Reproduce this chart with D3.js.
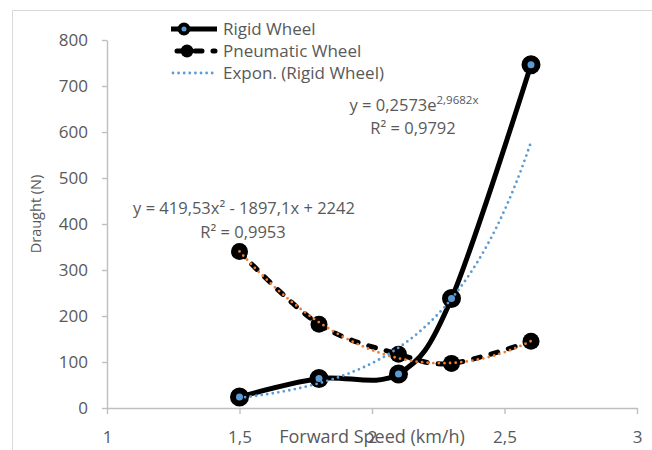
<!DOCTYPE html>
<html>
<head>
<meta charset="utf-8">
<script src="https://cdn.jsdelivr.net/npm/d3@7"></script>
<style>
  body { margin: 0; background: #fff; }
  svg { display: block; font-family: "Open Sans", "Noto Sans", sans-serif; }
  .axis path, .axis line { stroke: #bfbfbf; stroke-width: 1.4; }
  .axis text { fill: #595959; font-size: 17px; font-family: "Open Sans", sans-serif; }
</style>
</head>
<body>
<div id="chart"></div>
<script>
// --- data ---
const speeds = [1.5, 1.8, 2.1, 2.3, 2.6];
const rigidDraught = [24, 64, 74, 238, 746];
const pneumaticDraught = [340, 182, 117, 97, 145];
const xTicks = [1, 1.5, 2, 2.5, 3];
const yTicks = [0, 100, 200, 300, 400, 500, 600, 700, 800];
const expCoef = [0.2573, 2.9682];          // y = a * e^(b x)
const quadCoef = [419.53, -1897.1, 2242];   // y = a x^2 + b x + c
const legendNames = ["Rigid Wheel", "Pneumatic Wheel", "Expon. (Rigid Wheel)"];

const width = 652, height = 450;
const black = "#000", blue = "#5b9bd5", orange = "#ed7d31", grey = "#595959";

const svg = d3.select("#chart").append("svg")
    .attr("width", width)
    .attr("height", height);

// chart border (only top / left visible)
svg.append("path")
    .attr("d", "M12.5,450V10.5H652")
    .attr("fill", "none")
    .attr("stroke", "#d9d9d9")
    .attr("stroke-width", 1);

const x = d3.scaleLinear().domain([1, 3]).range([107, 637]);
const y = d3.scaleLinear().domain([0, 800]).range([408, 40]);
const fmt = d => String(d).replace(".", ",");

// axes
const gx = svg.append("g").attr("class", "axis")
    .attr("transform", "translate(0,408)")
    .call(d3.axisBottom(x).tickValues(xTicks).tickFormat(fmt).tickSize(6).tickSizeOuter(0));
gx.selectAll("text").attr("y", 29).attr("dy", "0.35em");

const gy = svg.append("g").attr("class", "axis")
    .attr("transform", "translate(107,0)")
    .call(d3.axisLeft(y).tickValues(yTicks).tickSize(5).tickPadding(14).tickSizeOuter(0));
gy.selectAll("text").attr("dy", "0.35em");

// axis titles
svg.append("text")
    .attr("x", 372).attr("y", 437).attr("dy", "0.35em")
    .attr("text-anchor", "middle")
    .attr("fill", grey).attr("font-size", 18)
    .text("Forward Speed (km/h)");

svg.append("text")
    .attr("transform", "translate(36,214) rotate(-90)")
    .attr("dy", "0.35em")
    .attr("text-anchor", "middle")
    .attr("fill", grey).attr("font-size", 14.5)
    .text("Draught (N)");

// series
const rigid = speeds.map((s, i) => [s, rigidDraught[i]]);
const pneu = speeds.map((s, i) => [s, pneumaticDraught[i]]);

const line = d3.line()
    .x(d => x(d[0]))
    .y(d => y(d[1]))
    .curve(d3.curveCardinal.tension(0));

svg.append("path")
    .datum(pneu)
    .attr("d", line)
    .attr("fill", "none")
    .attr("stroke", black)
    .attr("stroke-width", 5)
    .attr("stroke-linecap", "round")
    .attr("stroke-dasharray", "7,11");

svg.append("path")
    .datum(rigid)
    .attr("d", line)
    .attr("fill", "none")
    .attr("stroke", black)
    .attr("stroke-width", 5);

// markers
svg.append("g").selectAll("circle")
    .data(pneu)
    .join("circle")
    .attr("cx", d => x(d[0]))
    .attr("cy", d => y(d[1]))
    .attr("r", 8.5)
    .attr("fill", black);

svg.append("g").selectAll("circle")
    .data(rigid)
    .join("circle")
    .attr("cx", d => x(d[0]))
    .attr("cy", d => y(d[1]))
    .attr("r", 6.5)
    .attr("fill", blue)
    .attr("stroke", black)
    .attr("stroke-width", 6);

// trendlines (from the printed equations)
const span = d3.range(0, 61).map(i => speeds[0] + (speeds[speeds.length - 1] - speeds[0]) * i / 60);
const quadPts = span.map(s => [s, quadCoef[0] * s * s + quadCoef[1] * s + quadCoef[2]]);
const expPts = span.map(s => [s, expCoef[0] * Math.exp(expCoef[1] * s)]);
const straight = d3.line().x(d => x(d[0])).y(d => y(d[1]));

[[quadPts, orange], [expPts, blue]].forEach(([pts, col]) => {
    svg.append("path")
        .datum(pts)
        .attr("d", straight)
        .attr("fill", "none")
        .attr("stroke", col)
        .attr("stroke-width", 2.8)
        .attr("stroke-linecap", "round")
        .attr("stroke-dasharray", "0,5.6");
});

// equations
const eqExp = svg.append("text")
    .attr("x", 414).attr("y", 105).attr("dy", "0.35em")
    .attr("text-anchor", "middle")
    .attr("fill", grey).attr("font-size", 16.5);
eqExp.append("tspan").text("y = " + fmt(expCoef[0]) + "e");
eqExp.append("tspan").attr("dy", -7).attr("font-size", 11.5).text(fmt(expCoef[1]) + "x");
svg.append("text")
    .attr("x", 413).attr("y", 128).attr("dy", "0.35em")
    .attr("text-anchor", "middle")
    .attr("fill", grey).attr("font-size", 16.5)
    .text("R² = 0,9792");

svg.append("text")
    .attr("x", 244).attr("y", 208).attr("dy", "0.35em")
    .attr("text-anchor", "middle")
    .attr("fill", grey).attr("font-size", 16.5)
    .text("y = " + fmt(quadCoef[0]) + "x² - " + fmt(-quadCoef[1]) + "x + " + quadCoef[2]);
svg.append("text")
    .attr("x", 243).attr("y", 232).attr("dy", "0.35em")
    .attr("text-anchor", "middle")
    .attr("fill", grey).attr("font-size", 16.5)
    .text("R² = 0,9953");

// legend
const legend = svg.append("g");
const rowY = [29, 51, 73];

legend.append("line").attr("x1", 171).attr("x2", 217).attr("y1", rowY[0]).attr("y2", rowY[0])
    .attr("stroke", black).attr("stroke-width", 5);
legend.append("circle").attr("cx", 184).attr("cy", rowY[0]).attr("r", 4.5)
    .attr("fill", blue).attr("stroke", black).attr("stroke-width", 4);

legend.append("line").attr("x1", 173).attr("x2", 215).attr("y1", rowY[1]).attr("y2", rowY[1])
    .attr("stroke", black).attr("stroke-width", 5)
    .attr("stroke-linecap", "round").attr("stroke-dasharray", "7,11")
    .attr("stroke-dashoffset", -4);
legend.append("circle").attr("cx", 187).attr("cy", rowY[1]).attr("r", 6.5).attr("fill", black);

legend.append("line").attr("x1", 173).attr("x2", 215).attr("y1", rowY[2]).attr("y2", rowY[2])
    .attr("stroke", blue).attr("stroke-width", 2.8)
    .attr("stroke-linecap", "round").attr("stroke-dasharray", "0,5.6");

legend.selectAll("text.leg")
    .data(legendNames)
    .join("text")
    .attr("class", "leg")
    .attr("x", 223)
    .attr("y", (d, i) => rowY[i])
    .attr("dy", "0.35em")
    .attr("fill", grey)
    .attr("font-size", 17)
    .text(d => d);
</script>
</body>
</html>
